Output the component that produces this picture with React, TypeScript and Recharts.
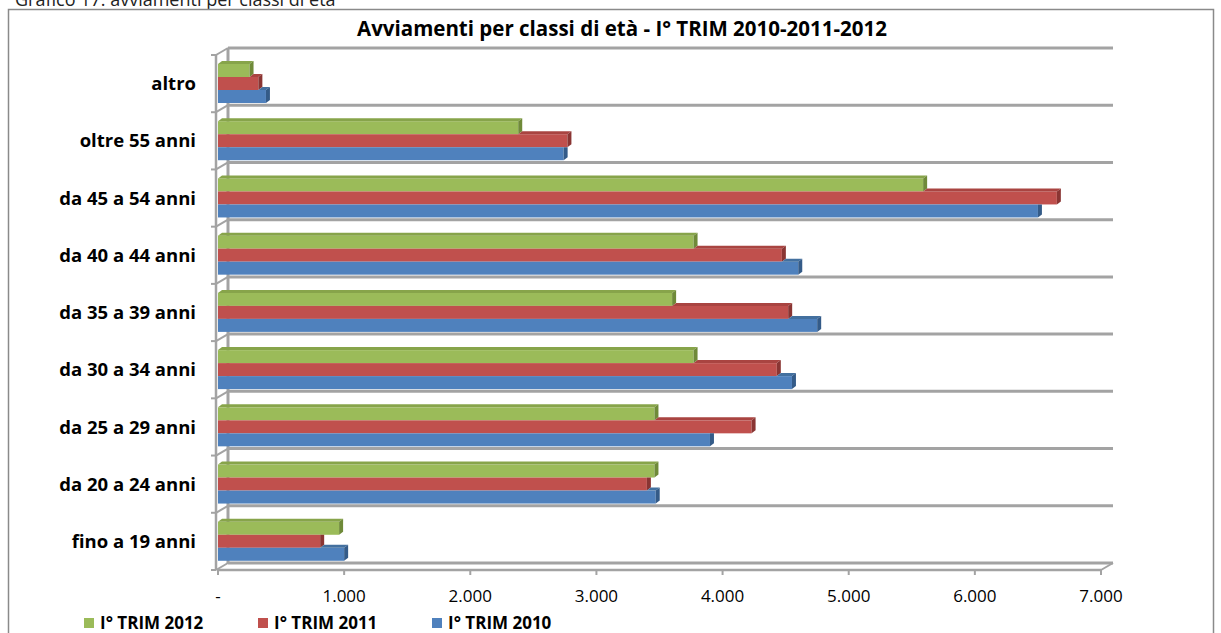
import { BarChart, Bar, XAxis, YAxis, Legend } from 'recharts';

// Age classes, top to bottom
const categories = [
  'altro',
  'oltre 55 anni',
  'da 45 a 54 anni',
  'da 40 a 44 anni',
  'da 35 a 39 anni',
  'da 30 a 34 anni',
  'da 25 a 29 anni',
  'da 20 a 24 anni',
  'fino a 19 anni',
];

// Hirings per quarter (I° TRIM)
const trim2012 = [250, 2380, 5590, 3770, 3600, 3770, 3460, 3460, 960];
const trim2011 = [320, 2770, 6650, 4470, 4520, 4430, 4230, 3400, 810];
const trim2010 = [380, 2740, 6500, 4600, 4750, 4550, 3900, 3470, 1000];

const seriesKeys = ['t2012', 't2011', 't2010'];
const seriesNames = ['I° TRIM 2012', 'I° TRIM 2011', 'I° TRIM 2010'];
const seriesColors = ['#9BBB59', '#C0504D', '#4F81BD'];
const seriesTop = ['#87A44A', '#A94441', '#43709F'];
const seriesSide = ['#6F8A39', '#8A3533', '#345B88'];

const xTicks = [0, 1000, 2000, 3000, 4000, 5000, 6000, 7000];
const xTickLabels = ['-', '1.000', '2.000', '3.000', '4.000', '5.000', '6.000', '7.000'];

const data = categories.map((name, i) => ({
  name,
  t2012: trim2012[i],
  t2011: trim2011[i],
  t2010: trim2010[i],
}));

const W = 1221;
const H = 633;
const FONT = '"Open Sans", sans-serif';

// plot box (front plane) and the depth offset of the back wall
const PLOT_LEFT = 218;
const PLOT_RIGHT = 1101;
const PLOT_TOP = 55;
const PLOT_BOTTOM = 570;
const DX = 10;
const DY = 7;
const GRID = '#A3A3A3';

// 3D-looking bar: front face, top face and right end face
function makeBarShape(idx: number) {
  const aboveKey = idx > 0 ? seriesKeys[idx - 1] : null;
  return (props: any) => {
    const { x, y, width, height, payload, value } = props;
    if (!width || width <= 0) return <g />;
    const d = 4;
    const e = 3;
    const v = Array.isArray(value) ? value[1] - value[0] : value;
    const ppu = v ? width / v : 0;
    const right = x + width;
    const aboveEnd = aboveKey ? x + payload[aboveKey] * ppu : x;
    const showTop = !aboveKey || aboveEnd < right;
    const sx = aboveKey ? Math.max(x, aboveEnd) : x;
    const side =
      aboveKey && aboveEnd > right
        ? `${right},${y} ${right + d},${y} ${right + d},${y + height - e} ${right},${y + height}`
        : `${right},${y} ${right + d},${y - e} ${right + d},${y + height - e} ${right},${y + height}`;
    return (
      <g>
        <rect x={x} y={y} width={width} height={height} fill={seriesColors[idx]} />
        {showTop && (
          <polygon
            points={`${sx},${y} ${sx + d},${y - e} ${right + d},${y - e} ${right},${y}`}
            fill={seriesTop[idx]}
          />
        )}
        <polygon points={side} fill={seriesSide[idx]} />
      </g>
    );
  };
}

function Walls() {
  const band = (PLOT_BOTTOM - PLOT_TOP) / categories.length;
  const rows = Array.from({ length: categories.length + 1 }, (_, i) => PLOT_TOP + i * band);
  return (
    <svg width={W} height={H} style={{ position: 'absolute', left: 0, top: 0 }}>
      <text x={15} y={6} fontFamily={FONT} fontSize={18} fill="#222">
        Grafico 17: avviamenti per classi di età
      </text>
      <rect x={8.5} y={9.5} width={1205} height={700} fill="#fff" stroke="#8A8A8A" strokeWidth={1.5} />
      <text x={622} y={36} textAnchor="middle" fontFamily={FONT} fontWeight={700} fontSize={20.5} fill="#000">
        Avviamenti per classi di età - I° TRIM 2010-2011-2012
      </text>
      {/* back wall gridlines at the category boundaries */}
      {rows.map((yf, i) => (
        <line key={`g${i}`} x1={PLOT_LEFT + DX} x2={PLOT_RIGHT + DX + 2} y1={yf - DY} y2={yf - DY} stroke={GRID} strokeWidth={3} />
      ))}
      <line x1={PLOT_LEFT + DX} x2={PLOT_LEFT + DX} y1={PLOT_TOP - DY} y2={PLOT_BOTTOM - DY} stroke={GRID} strokeWidth={3} />
      {/* front vertical axis with boundary ticks */}
      <line x1={PLOT_LEFT - 2} x2={PLOT_LEFT - 2} y1={PLOT_TOP} y2={PLOT_BOTTOM} stroke={GRID} strokeWidth={2.5} />
      {rows.map((yf, i) => (
        <g key={`t${i}`}>
          <line x1={PLOT_LEFT - 7} x2={PLOT_LEFT - 2} y1={yf} y2={yf} stroke={GRID} strokeWidth={2} />
          <line x1={PLOT_LEFT - 2} x2={PLOT_LEFT + DX} y1={yf} y2={yf - DY} stroke={GRID} strokeWidth={2} />
        </g>
      ))}
      <line x1={PLOT_RIGHT} x2={PLOT_RIGHT + DX + 2} y1={PLOT_BOTTOM} y2={PLOT_BOTTOM - DY} stroke={GRID} strokeWidth={2} />
    </svg>
  );
}

function LegendContent(props: any) {
  const items = [...(props.payload || [])].sort(
    (a: any, b: any) => seriesNames.indexOf(a.value) - seriesNames.indexOf(b.value),
  );
  return (
    <div style={{ display: 'flex', fontFamily: FONT, fontWeight: 700, fontSize: 17, lineHeight: '20px', color: '#000' }}>
      {items.map((it: any, i: number) => (
        <div key={i} style={{ display: 'flex', alignItems: 'center', width: 174 }}>
          <span style={{ display: 'inline-block', width: 10, height: 10, background: it.color, marginRight: 6 }} />
          <span>{it.value}</span>
        </div>
      ))}
    </div>
  );
}

export default function App() {
  return (
    <div style={{ position: 'absolute', left: 0, top: 0, width: W, height: H, overflow: 'hidden', background: '#fff' }}>
      <Walls />
      <div style={{ position: 'absolute', left: 0, top: 0 }}>
        <BarChart
          width={W}
          height={H}
          data={data}
          layout="vertical"
          margin={{ top: PLOT_TOP, right: W - PLOT_RIGHT, bottom: H - PLOT_BOTTOM - 40, left: 18 }}
          barSize={13}
          barGap={0}
        >
          <XAxis
            type="number"
            domain={[0, 7000]}
            ticks={xTicks}
            interval={0}
            height={40}
            tickFormatter={(v: number) => xTickLabels[xTicks.indexOf(v)]}
            tick={{ fontFamily: FONT, fontSize: 17, fill: '#000' }}
            axisLine={{ stroke: GRID, strokeWidth: 2.5 }}
            tickLine={{ stroke: GRID, strokeWidth: 2 }}
            tickSize={5}
            tickMargin={15}
          />
          <YAxis
            type="category"
            dataKey="name"
            width={200}
            axisLine={false}
            tickLine={false}
            tickSize={0}
            tickMargin={22}
            interval={0}
            tick={{ fontFamily: FONT, fontSize: 18.5, fontWeight: 700, fill: '#000' }}
          />
          <Legend
            layout="horizontal"
            verticalAlign="middle"
            align="center"
            content={<LegendContent />}
            wrapperStyle={{ left: 84, top: 613, width: 'auto' }}
          />
          {seriesKeys.map((k, i) => (
            <Bar
              key={k}
              dataKey={k}
              name={seriesNames[i]}
              fill={seriesColors[i]}
              shape={makeBarShape(i)}
              isAnimationActive={false}
            />
          ))}
        </BarChart>
      </div>
    </div>
  );
}
